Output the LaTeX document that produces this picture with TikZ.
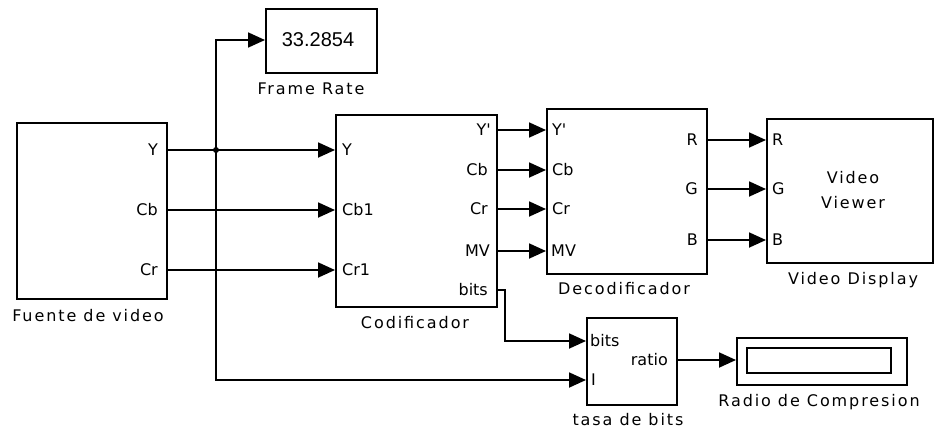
\documentclass[tikz,border=0pt]{standalone}
\usepackage{fontspec}
\setmainfont{DejaVu Sans}
\newfontfamily\blkfont{DejaVu Sans}[LetterSpace=12]
\newfontfamily\numfont{Liberation Sans}
\usetikzlibrary{arrows.meta}
\begin{document}
\begin{tikzpicture}[x=1pt,y=-1pt,
  blk/.style={draw, line width=1.8pt, inner sep=0, anchor=north west},
  wire/.style={line width=1.8pt, -{Triangle[length=17pt,width=15pt]}},
  portin/.style={inner sep=0, anchor=west, font=\fontsize{16}{16}\selectfont},
  portout/.style={inner sep=0, anchor=east, font=\fontsize{16}{16}\selectfont},
  blkname/.style={inner sep=0, font=\blkfont\fontsize{16}{25}\selectfont, align=center},
]
\useasboundingbox (0,0) rectangle (936,429);

% blocks
\node[blk, minimum width=150pt, minimum height=176pt] (src) at (16,122) {};
\node[blk, minimum width=111pt, minimum height=64pt] (fr) at (265,8) {};
\node[blk, minimum width=161pt, minimum height=192pt] (cod) at (335,114) {};
\node[blk, minimum width=160pt, minimum height=165pt] (dec) at (546,108) {};
\node[blk, minimum width=166pt, minimum height=144pt] (vid) at (766,118) {};
\node[blk, minimum width=90pt, minimum height=87pt] (tasa) at (586,317) {};
\node[blk, minimum width=170pt, minimum height=47pt] (disp) at (736,337) {};
\node[blk, minimum width=144pt, minimum height=25pt] (dispin) at (746,347) {};

% block contents
\node[inner sep=0, font=\numfont\fontsize{20}{20}\selectfont] (frval) at (318,40) {33.2854};
\node[blkname] (vidtxt) at (853,190) {Video\\Viewer};

% block names
\node[blkname] (srcname) at (88,316) {Fuente de video};
\node[blkname] (frname) at (311,89) {Frame Rate};
\node[blkname] (codname) at (415,323) {Codificador};
\node[blkname] (decname) at (624,289) {Decodificador};
\node[blkname] (vidname) at (853,280) {Video Display};
\node[blkname] (tasaname) at (628,420) {tasa de bits};
\node[blkname] (dispname) at (819,402) {Radio de Compresion};

% ports
\coordinate (srcY) at (166,150);
\coordinate (srcCb) at (166,210);
\coordinate (srcCr) at (166,270);
\coordinate (J) at (216,150);
\coordinate (codY) at (335,150);
\coordinate (codCb) at (335,210);
\coordinate (codCr) at (335,270);
\coordinate (codoY) at (496,130);
\coordinate (codoCb) at (496,170);
\coordinate (codoCr) at (496,209);
\coordinate (codoMV) at (496,251);
\coordinate (codoBits) at (496,290);
\coordinate (bend) at (505,290);
\coordinate (decY) at (546,130);
\coordinate (decCb) at (546,170);
\coordinate (decCr) at (546,209);
\coordinate (decMV) at (546,251);
\coordinate (decR) at (706,140);
\coordinate (decG) at (706,189);
\coordinate (decB) at (706,240);
\coordinate (vidR) at (766,140);
\coordinate (vidG) at (766,189);
\coordinate (vidB) at (766,240);
\coordinate (frIn) at (265,40);
\coordinate (tasaBits) at (586,341);
\coordinate (tasaI) at (586,380);
\coordinate (tasaR) at (676,360);
\coordinate (dispIn) at (736,360);

% port labels
\node[portout] (lsY) at (158,150) {Y};
\node[portout] (lsCb) at (158,210) {Cb};
\node[portout] (lsCr) at (158,270) {Cr};
\node[portin] (lcY) at (342,150) {Y};
\node[portin] (lcCb) at (342,210) {Cb1};
\node[portin] (lcCr) at (342,270) {Cr1};
\node[portout] (lcoY) at (491,130) {Y\textquotesingle};
\node[portout] (lcoCb) at (488,170) {Cb};
\node[portout] (lcoCr) at (488,209) {Cr};
\node[portout] (lcoMV) at (490,251) {MV};
\node[portout] (lcoB) at (488,290) {bits};
\node[portin] (ldY) at (552,130) {Y\textquotesingle};
\node[portin] (ldCb) at (552,170) {Cb};
\node[portin] (ldCr) at (552,209) {Cr};
\node[portin] (ldMV) at (551,251) {MV};
\node[portout] (ldR) at (698,140) {R};
\node[portout] (ldG) at (698,189) {G};
\node[portout] (ldB) at (698,240) {B};
\node[portin] (lvR) at (772,140) {R};
\node[portin] (lvG) at (772,189) {G};
\node[portin] (lvB) at (772,240) {B};
\node[portin] (ltB) at (590,341) {bits};
\node[portin] (ltI) at (591,380) {I};
\node[portout] (ltR) at (668,360) {ratio};

% connectors
\draw[wire] (srcY) -- (codY);
\draw[wire] (srcCb) -- (codCb);
\draw[wire] (srcCr) -- (codCr);
\draw[wire] (J) |- (frIn);
\draw[wire] (J) |- (tasaI);
\fill (J) circle (3pt);
\draw[wire] (codoY) -- (decY);
\draw[wire] (codoCb) -- (decCb);
\draw[wire] (codoCr) -- (decCr);
\draw[wire] (codoMV) -- (decMV);
\draw[wire] (codoBits) -- (bend) |- (tasaBits);
\draw[wire] (decR) -- (vidR);
\draw[wire] (decG) -- (vidG);
\draw[wire] (decB) -- (vidB);
\draw[wire] (tasaR) -- (dispIn);
\end{tikzpicture}
\end{document}
